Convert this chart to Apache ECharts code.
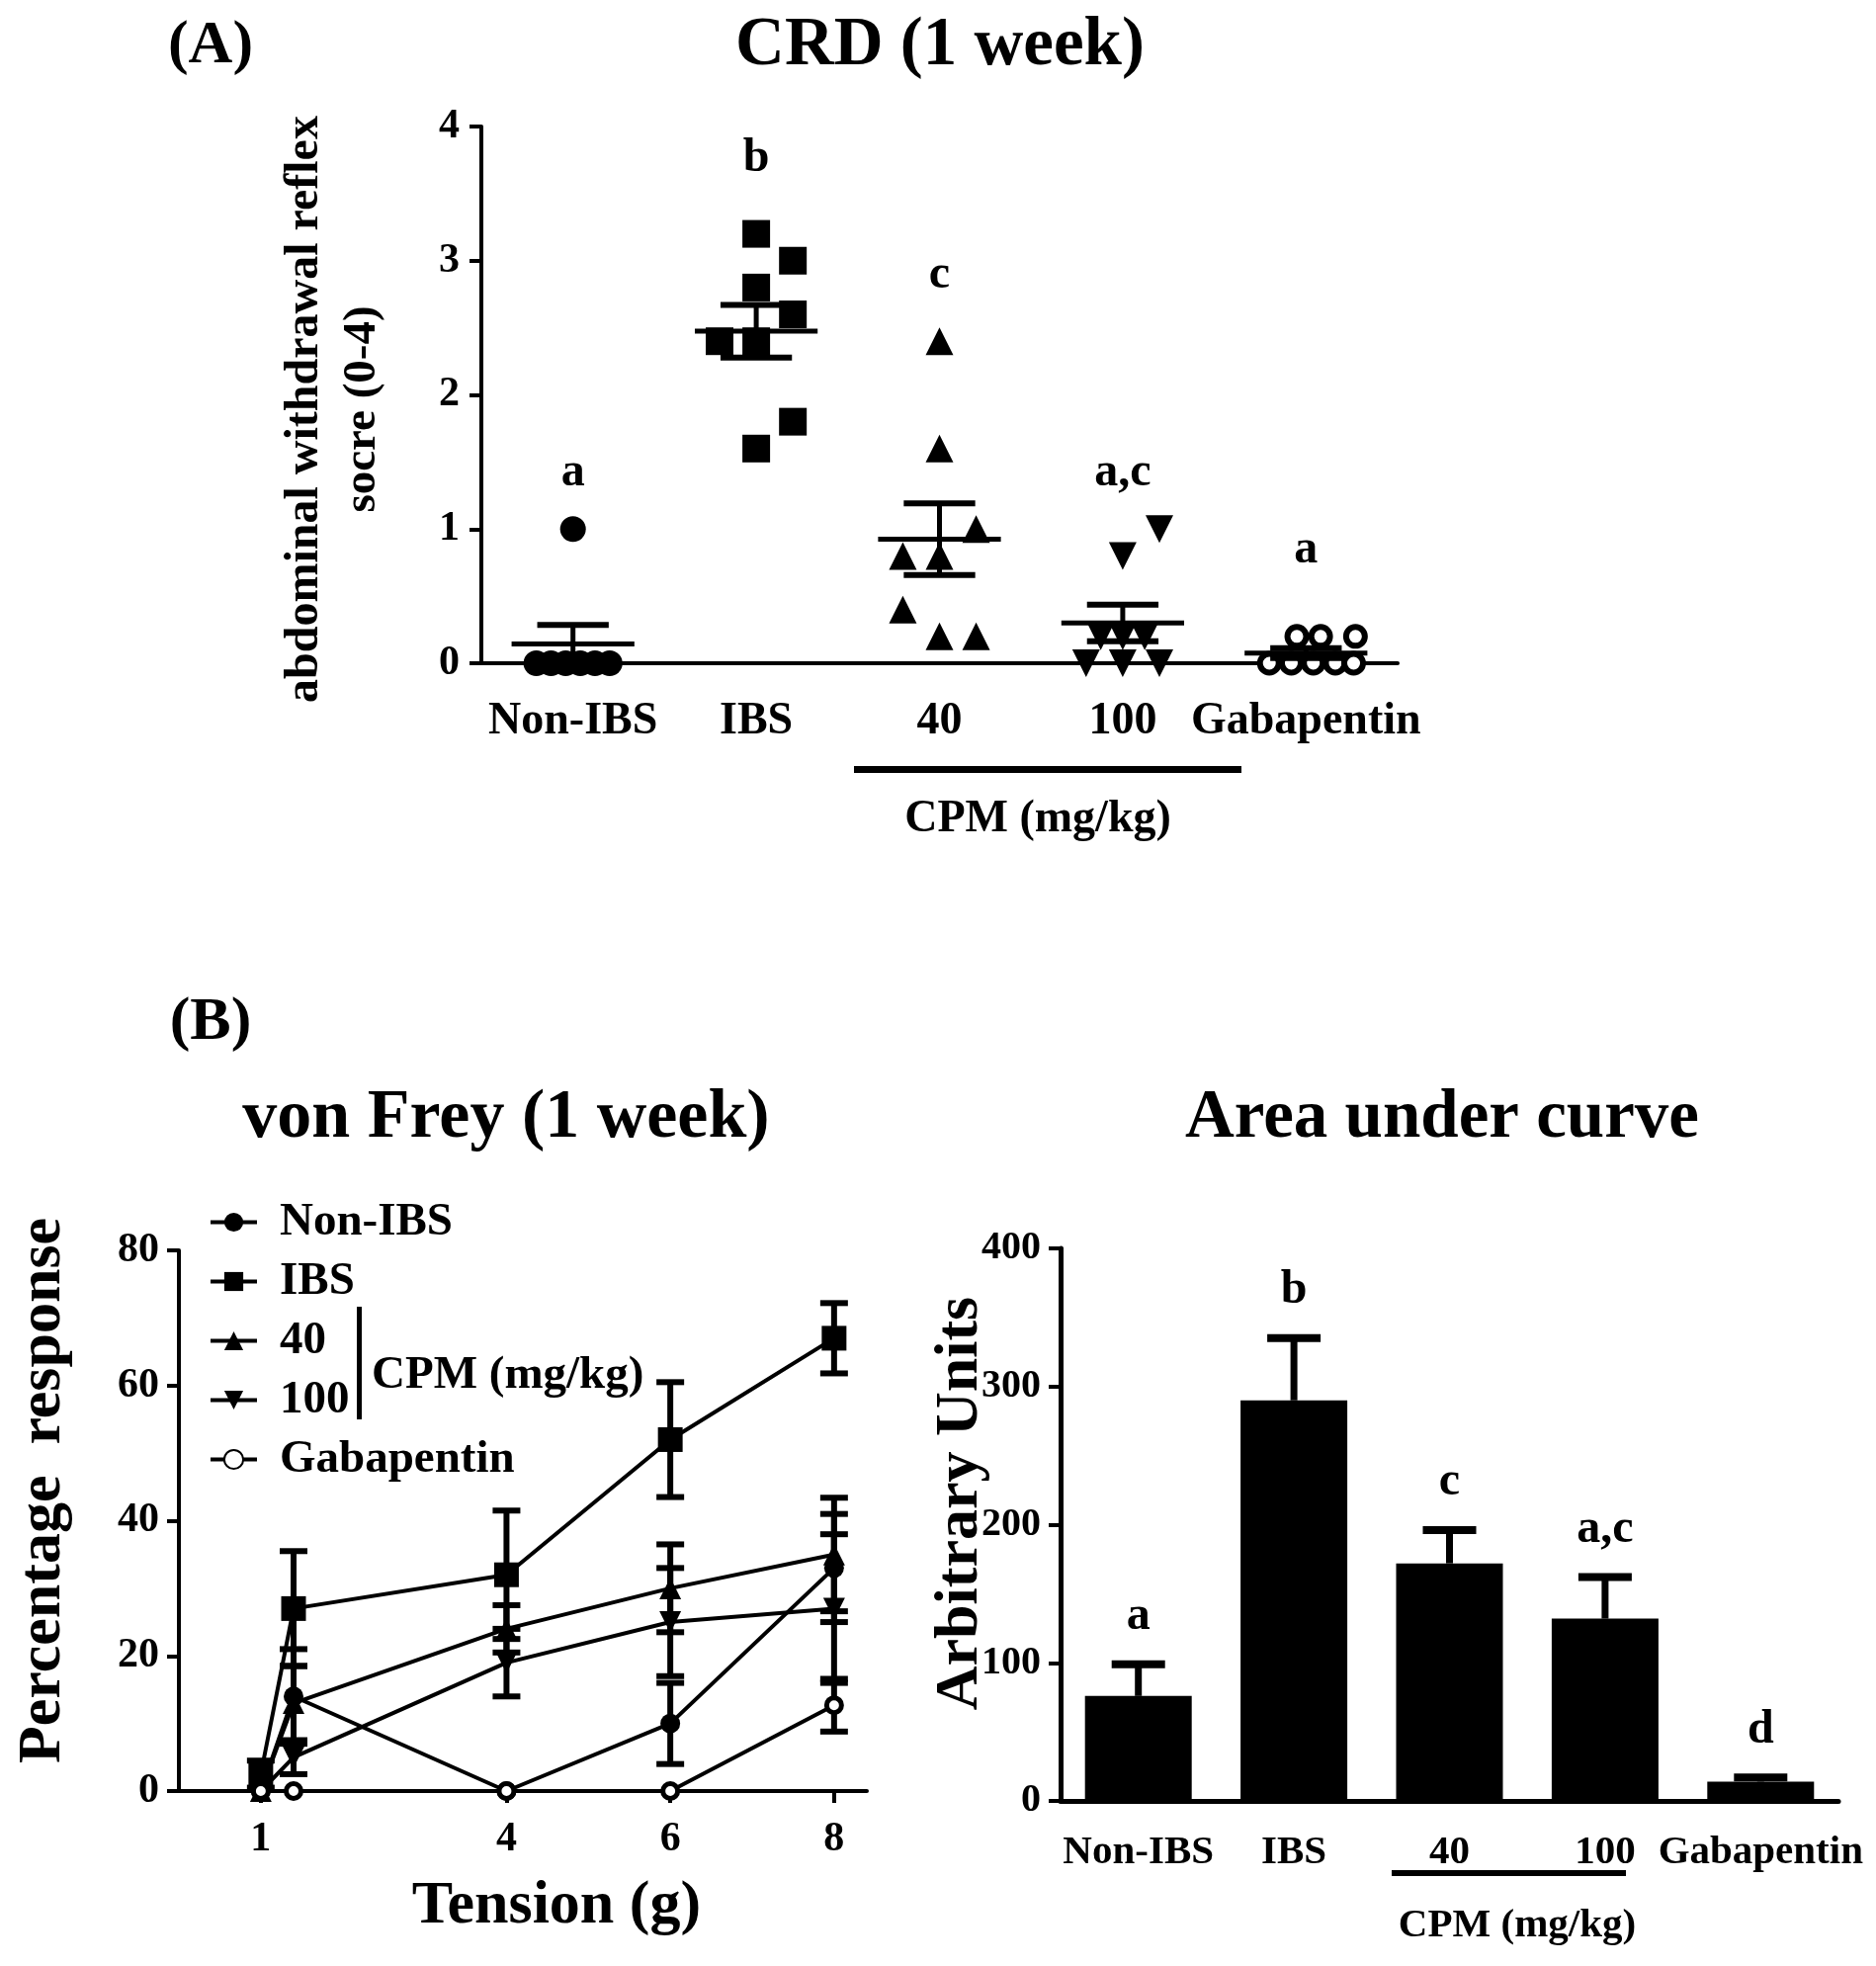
<!DOCTYPE html>
<html>
<head>
<meta charset="utf-8">
<script src="https://cdn.jsdelivr.net/npm/echarts@6/dist/echarts.min.js"></script>
<style>
html, body { margin: 0; padding: 0; background: #fff; }
#figure { width: 1898px; height: 1989px; }
</style>
</head>
<body>
<div id="figure"></div>
<script>
// ---- (A) CRD scores, one value per animal ----
var groups = ['Non-IBS', 'IBS', '40', '100', 'Gabapentin'];
var crdNonIbs = [1.0, 0, 0, 0, 0, 0, 0];
var crdIbs = [3.2, 3.0, 2.8, 2.6, 2.4, 2.4, 1.8, 1.6];
var crd40 = [2.4, 1.6, 1.0, 0.8, 0.8, 0.4, 0.2, 0.2];
var crd100 = [1.0, 0.8, 0.2, 0.2, 0.2, 0, 0, 0];
var crdGaba = [0.2, 0.2, 0.2, 0, 0, 0, 0, 0];
// side offsets of the dots inside a column (fraction of a column)
var jitNonIbs = [0, -0.2, -0.12, -0.04, 0.04, 0.12, 0.2];
var jitIbs = [0, 0.2, 0, 0.2, -0.2, 0, 0.2, 0];
var jit40 = [0, 0, 0.2, -0.2, 0, -0.2, 0, 0.2];
var jit100 = [0.2, 0, -0.12, 0, 0.12, -0.2, 0, 0.2];
var jitGaba = [-0.05, 0.08, 0.27, -0.2, -0.08, 0.04, 0.16, 0.26];
var crdLetters = ['a', 'b', 'c', 'a,c', 'a'];
var crdLetterAt = [1.42, 3.76, 2.89, 1.42, 0.84];

// ---- (B) von Frey, % response ----
var tension = [1, 1.4, 4, 6, 8];
var tensionTicks = [1, 4, 6, 8];
var vfNonIbs = [0, 14, 0, 10, 33];
var vfNonIbsErr = [0, 7, 0, 6, 8];
var vfIbs = [2.5, 27, 32, 52, 67];
var vfIbsErr = [2, 8.5, 9.5, 8.5, 5.2];
var vf40 = [0, 13, 24, 30, 35];
var vf40Err = [0, 5.5, 3.5, 6.5, 8.4];
var vf100 = [0, 5, 19, 25, 27];
var vf100Err = [0, 2.5, 5, 8, 11];
var vfGaba = [0, 0, 0, 0, 12.7];
var vfGabaErr = [0, 0, 0, 0, 3.9];

// ---- area under curve ----
var aucMean = [76, 290, 172, 132, 14];
var aucSem = [23, 45, 24, 30, 3];
var aucLetters = ['a', 'b', 'c', 'a,c', 'd'];

var FONT = '"Liberation Serif", "Times New Roman", serif';
function bold(size) { return 'bold ' + size + 'px ' + FONT; }

function meanOf(a) { var s = 0; a.forEach(function (v) { s += v; }); return s / a.length; }
function semOf(a) {
    var m = meanOf(a), s = 0;
    a.forEach(function (v) { s += (v - m) * (v - m); });
    return Math.sqrt(s / (a.length - 1)) / Math.sqrt(a.length);
}
function line(x1, y1, x2, y2, w) {
    return { type: 'line', shape: { x1: x1, y1: y1, x2: x2, y2: y2 }, style: { stroke: '#000', lineWidth: w } };
}

var crdSets = [crdNonIbs, crdIbs, crd40, crd100, crdGaba];
var crdJits = [jitNonIbs, jitIbs, jit40, jit100, jitGaba];
var crdSymbols = ['circle', 'rect', 'triangle', 'triangle', 'circle'];
var crdSizes = [26, 28, 28, 28, 19];

var series = [];

crdSets.forEach(function (vals, g) {
    var open = g === 4;
    series.push({
        name: 'CRD ' + groups[g],
        type: 'scatter',
        xAxisIndex: 1, yAxisIndex: 0,
        symbol: crdSymbols[g],
        symbolSize: crdSizes[g],
        symbolRotate: g === 3 ? 180 : 0,
        itemStyle: { color: open ? '#fff' : '#000', opacity: 1, borderColor: '#000', borderWidth: open ? 6 : 0 },
        data: vals.map(function (v, i) { return [g + 0.5 + crdJits[g][i], v]; }),
        z: 3
    });
});

// mean +/- SEM bars and letters for panel A
series.push({
    name: 'CRD mean',
    type: 'custom',
    xAxisIndex: 1, yAxisIndex: 0,
    data: crdSets.map(function (vals, g) { return [g + 0.5, meanOf(vals), semOf(vals), g]; }),
    renderItem: function (params, api) {
        var x = api.value(0), m = api.value(1), e = api.value(2);
        var c = api.coord([x, m]), hi = api.coord([x, m + e]), lo = api.coord([x, m - e]);
        var half = api.size([0.335, 0])[0], cap = api.size([0.195, 0])[0];
        return { type: 'group', children: [
            line(c[0] - half, c[1], c[0] + half, c[1], 5),
            line(c[0], hi[1], c[0], lo[1], 5),
            line(c[0] - cap, hi[1], c[0] + cap, hi[1], 6),
            line(c[0] - cap, lo[1], c[0] + cap, lo[1], 6)
        ] };
    },
    z: 4
});
series.push({
    name: 'CRD letters',
    type: 'custom',
    xAxisIndex: 1, yAxisIndex: 0,
    data: crdLetterAt.map(function (v, g) { return [g + 0.5, v]; }),
    renderItem: function (params, api) {
        var p = api.coord([api.value(0), api.value(1)]);
        return { type: 'text', x: p[0], y: p[1],
            style: { text: crdLetters[params.dataIndex], font: bold(48), fill: '#000', textAlign: 'center', textVerticalAlign: 'middle' } };
    }
});

// panel B left: lines + error bars
var vfSets = [
    ['Non-IBS', vfNonIbs, vfNonIbsErr, 'circle', 20, 0, false],
    ['IBS', vfIbs, vfIbsErr, 'rect', 25, 0, false],
    ['40', vf40, vf40Err, 'triangle', 22, 0, false],
    ['100', vf100, vf100Err, 'triangle', 22, 180, false],
    ['Gabapentin', vfGaba, vfGabaErr, 'circle', 15, 0, true]
];
vfSets.forEach(function (s) {
    series.push({
        name: s[0],
        type: 'line',
        xAxisIndex: 2, yAxisIndex: 1,
        symbol: s[3], symbolSize: s[4], symbolRotate: s[5],
        showAllSymbol: true,
        lineStyle: { color: '#000', width: 4 },
        itemStyle: { color: s[6] ? '#fff' : '#000', borderColor: '#000', borderWidth: s[6] ? 5 : 0 },
        data: tension.map(function (t, i) { return [t, s[1][i]]; }),
        z: 3
    });
    series.push({
        name: s[0] + ' err',
        type: 'custom',
        xAxisIndex: 2, yAxisIndex: 1,
        data: tension.map(function (t, i) { return [t, s[1][i], s[2][i]]; }),
        renderItem: function (params, api) {
            var x = api.value(0), y = api.value(1), e = api.value(2);
            if (!e) { return { type: 'group', children: [] }; }
            var hi = api.coord([x, y + e]), lo = api.coord([x, y - e]);
            return { type: 'group', children: [
                line(hi[0], hi[1], lo[0], lo[1], 6),
                line(hi[0] - 14, hi[1], hi[0] + 14, hi[1], 6),
                line(lo[0] - 14, lo[1], lo[0] + 14, lo[1], 6)
            ] };
        },
        z: 2
    });
});

// area under curve bars
series.push({
    name: 'AUC',
    type: 'bar',
    xAxisIndex: 3, yAxisIndex: 2,
    barWidth: 108,
    itemStyle: { color: '#000' },
    data: aucMean,
    z: 2
});
series.push({
    name: 'AUC err',
    type: 'custom',
    xAxisIndex: 3, yAxisIndex: 2,
    data: aucMean.map(function (m, i) { return [i, m, aucSem[i]]; }),
    renderItem: function (params, api) {
        var b = api.coord([api.value(0), api.value(1)]);
        var t = api.coord([api.value(0), api.value(1) + api.value(2)]);
        return { type: 'group', children: [
            line(b[0], b[1], t[0], t[1], 7),
            line(t[0] - 27, t[1], t[0] + 27, t[1], 8),
            { type: 'text', x: t[0], y: t[1] - 48,
              style: { text: aucLetters[params.dataIndex], font: bold(48), fill: '#000', textAlign: 'center', textVerticalAlign: 'middle' } }
        ] };
    },
    z: 3
});

var axisLineStyle = { lineStyle: { color: '#000', width: 4 } };
var tickStyle = { length: 12, lineStyle: { color: '#000', width: 4 } };

var figure = echarts.init(document.getElementById('figure'));
var option = {
    backgroundColor: '#fff',
    animation: false,
    grid: [
        { left: 487, top: 128, width: 927, height: 543 },
        { left: 181, top: 1265, width: 696, height: 547 },
        { left: 1073, top: 1263, width: 787, height: 559 }
    ],
    legend: {
        data: ['Non-IBS', 'IBS', '40', '100', 'Gabapentin'],
        orient: 'vertical',
        left: 206, top: 1208,
        itemWidth: 47, itemHeight: 24, itemGap: 13,
        selectedMode: false,
        lineStyle: { width: 4 },
        textStyle: { fontFamily: FONT, fontWeight: 'bold', fontSize: 47, color: '#000', lineHeight: 47, padding: [0, 0, 0, 18] }
    },
    xAxis: [
        {   // panel A labels
            gridIndex: 0, type: 'category', data: groups,
            axisLine: axisLineStyle,
            axisTick: { alignWithLabel: true, length: 12, lineStyle: { color: '#000', width: 4 } },
            axisLabel: { interval: 0, color: '#000', fontFamily: FONT, fontWeight: 'bold', fontSize: 46, margin: 36 }
        },
        {   // panel A marks
            gridIndex: 0, type: 'value', min: 0, max: 5, show: false
        },
        {
            gridIndex: 1, type: 'value', min: 0, max: 8.4,
            axisLine: axisLineStyle,
            axisTick: Object.assign({ customValues: tensionTicks }, tickStyle),
            axisLabel: { customValues: tensionTicks, color: '#000', fontFamily: FONT, fontWeight: 'bold', fontSize: 42, margin: 28 },
            splitLine: { show: false }
        },
        {
            gridIndex: 2, type: 'category', data: groups,
            axisLine: { lineStyle: { color: '#000', width: 5 } },
            axisTick: { alignWithLabel: true, length: 14, lineStyle: { color: '#000', width: 4 } },
            axisLabel: { interval: 0, color: '#000', fontFamily: FONT, fontWeight: 'bold', fontSize: 41, margin: 32 }
        }
    ],
    yAxis: [
        {
            gridIndex: 0, type: 'value', min: 0, max: 4, interval: 1,
            axisLine: { show: true, lineStyle: { color: '#000', width: 4 } },
            axisTick: { show: true, length: 12, lineStyle: { color: '#000', width: 4 } },
            axisLabel: { color: '#000', fontFamily: FONT, fontWeight: 'bold', fontSize: 42, margin: 22 },
            splitLine: { show: false }
        },
        {
            gridIndex: 1, type: 'value', min: 0, max: 80, interval: 20,
            axisLine: { show: true, lineStyle: { color: '#000', width: 4 } },
            axisTick: { show: true, length: 12, lineStyle: { color: '#000', width: 4 } },
            axisLabel: { color: '#000', fontFamily: FONT, fontWeight: 'bold', fontSize: 42, margin: 20 },
            splitLine: { show: false }
        },
        {
            gridIndex: 2, type: 'value', min: 0, max: 400, interval: 100,
            axisLine: { show: true, lineStyle: { color: '#000', width: 5 } },
            axisTick: { show: true, length: 12, lineStyle: { color: '#000', width: 4 } },
            axisLabel: { color: '#000', fontFamily: FONT, fontWeight: 'bold', fontSize: 40, margin: 20 },
            splitLine: { show: false }
        }
    ],
    graphic: [
        { type: 'text', x: 213, y: 47, style: { text: '(A)', font: bold(62), fill: '#000', textAlign: 'center', textVerticalAlign: 'middle' } },
        { type: 'text', x: 951, y: 47, style: { text: 'CRD (1 week)', font: bold(69), fill: '#000', textAlign: 'center', textVerticalAlign: 'middle' } },
        { type: 'text', x: 309, y: 414, rotation: Math.PI / 2, style: { text: 'abdominal withdrawal reflex', font: bold(48), fill: '#000', textAlign: 'center', textVerticalAlign: 'middle' } },
        { type: 'text', x: 367, y: 414, rotation: Math.PI / 2, style: { text: 'socre (0-4)', font: bold(47), fill: '#000', textAlign: 'center', textVerticalAlign: 'middle' } },
        { type: 'rect', shape: { x: 864, y: 775, width: 392, height: 7 }, style: { fill: '#000' } },
        { type: 'text', x: 1050, y: 829, style: { text: 'CPM (mg/kg)', font: bold(46), fill: '#000', textAlign: 'center', textVerticalAlign: 'middle' } },

        { type: 'text', x: 213, y: 1035, style: { text: '(B)', font: bold(62), fill: '#000', textAlign: 'center', textVerticalAlign: 'middle' } },
        { type: 'text', x: 512, y: 1132, style: { text: 'von Frey (1 week)', font: bold(70), fill: '#000', textAlign: 'center', textVerticalAlign: 'middle' } },
        { type: 'text', x: 1459, y: 1132, style: { text: 'Area under curve', font: bold(69), fill: '#000', textAlign: 'center', textVerticalAlign: 'middle' } },
        { type: 'text', x: 44, y: 1508, rotation: Math.PI / 2, style: { text: 'Percentage  response', font: bold(62), fill: '#000', textAlign: 'center', textVerticalAlign: 'middle' } },
        { type: 'text', x: 563, y: 1929, style: { text: 'Tension (g)', font: bold(62), fill: '#000', textAlign: 'center', textVerticalAlign: 'middle' } },
        { type: 'rect', shape: { x: 361, y: 1322, width: 5, height: 114 }, style: { fill: '#000' } },
        { type: 'text', x: 376, y: 1392, style: { text: 'CPM (mg/kg)', font: bold(47), fill: '#000', textAlign: 'left', textVerticalAlign: 'middle' } },

        { type: 'text', x: 972, y: 1521, rotation: Math.PI / 2, style: { text: 'Arbitrary Units', font: bold(62), fill: '#000', textAlign: 'center', textVerticalAlign: 'middle' } },
        { type: 'rect', shape: { x: 1408, y: 1892, width: 237, height: 6 }, style: { fill: '#000' } },
        { type: 'text', x: 1535, y: 1948, style: { text: 'CPM (mg/kg)', font: bold(41), fill: '#000', textAlign: 'center', textVerticalAlign: 'middle' } }
    ],
    series: series
};

figure.setOption(option);
</script>
</body>
</html>
